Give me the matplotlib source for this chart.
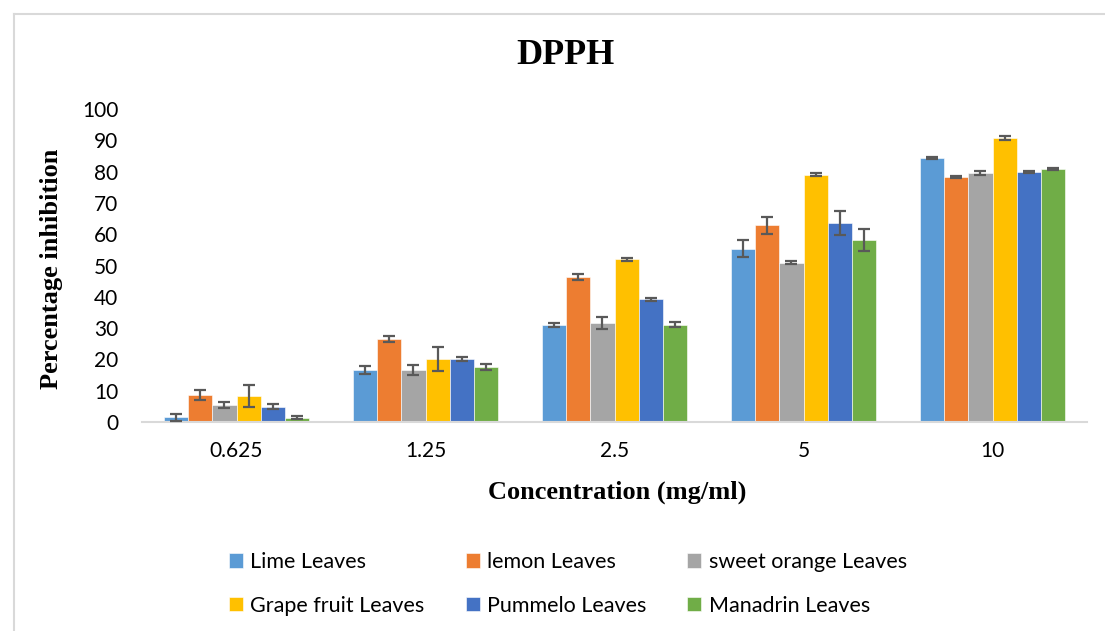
import numpy as np
import matplotlib
matplotlib.use("Agg")
import matplotlib.pyplot as plt
from matplotlib.lines import Line2D

concentrations = ["0.625", "1.25", "2.5", "5", "10"]
series_names = ["Lime Leaves", "lemon Leaves", "sweet orange Leaves",
                "Grape fruit Leaves", "Pummelo Leaves", "Manadrin Leaves"]
colors = ["#5B9BD5", "#ED7D31", "#A5A5A5", "#FFC000", "#4472C4", "#70AD47"]

lime = [1.5, 16.6, 31.0, 55.3, 84.4]
lemon = [8.6, 26.5, 46.3, 62.9, 78.2]
sweet_orange = [5.4, 16.6, 31.6, 50.9, 79.5]
grape_fruit = [8.3, 20.1, 52.0, 79.0, 90.7]
pummelo = [4.8, 20.1, 39.2, 63.5, 79.8]
mandarin = [1.3, 17.5, 31.0, 58.1, 80.7]

lime_err = [1.1, 1.4, 0.7, 2.7, 0.3]
lemon_err = [1.5, 1.1, 1.0, 2.7, 0.4]
sweet_orange_err = [1.0, 1.5, 1.9, 0.4, 0.6]
grape_fruit_err = [3.4, 3.8, 0.5, 0.5, 0.6]
pummelo_err = [0.8, 0.6, 0.4, 3.8, 0.4]
mandarin_err = [0.5, 1.0, 0.8, 3.6, 0.3]

values = [lime, lemon, sweet_orange, grape_fruit, pummelo, mandarin]
errors = [lime_err, lemon_err, sweet_orange_err, grape_fruit_err, pummelo_err, mandarin_err]

fig = plt.figure(figsize=(11.05, 6.31), dpi=100)
ax = fig.add_axes([142 / 1105, 1 - 422 / 631, 945 / 1105, 313 / 631])

x = np.arange(len(concentrations))
w = 0.767 / 6
handles = []
for j, (vals, errs) in enumerate(zip(values, errors)):
    pos = x + (j - 2.5) * w
    b = ax.bar(pos, vals, width=w, color=colors[j], edgecolor="white", linewidth=0.4,
               label=series_names[j], zorder=2)
    ax.errorbar(pos, vals, yerr=errs, fmt="none", ecolor="#595959", elinewidth=1.6,
                capsize=4.5, capthick=1.6, zorder=3)
    handles.append(b)

ax.set_xlim(-0.5, 4.5)
ax.set_ylim(0, 100)
ax.set_yticks(range(0, 101, 10))
ax.set_xticks(x)
ax.set_xticklabels(concentrations)
for s in ["top", "right", "left"]:
    ax.spines[s].set_visible(False)
ax.spines["bottom"].set_color("#d9d9d9")
ax.spines["bottom"].set_linewidth(1.5)
ax.tick_params(axis="both", length=0, labelsize=15, labelcolor="#000000")
ax.tick_params(axis="y", pad=17)
ax.tick_params(axis="x", pad=14)
for lab in ax.get_xticklabels() + ax.get_yticklabels():
    lab.set_family("Lato")

ax.set_ylabel("Percentage inhibition", family="Liberation Serif", fontweight="bold", fontsize=19)
ax.yaxis.set_label_coords(-0.0836, 0.49)
ax.set_xlabel("Concentration (mg/ml)", family="Liberation Serif", fontweight="bold", fontsize=19)
ax.xaxis.label.set_verticalalignment("center")
ax.xaxis.set_label_coords(0.503, -0.224)

fig.text(565 / 1105, 1 - 56 / 631, "DPPH", family="Liberation Serif", fontweight="bold",
         fontsize=26, ha="center", va="center")

# legend: rows read Lime, lemon, sweet orange / Grape, Pummelo, Manadrin
order = [0, 3, 1, 4, 2, 5]
leg = fig.legend([handles[i] for i in order], [series_names[i] for i in order],
                 ncol=3, loc="center", bbox_to_anchor=(568 / 1105, 1 - 584 / 631),
                 frameon=False, prop={"family": "Lato", "size": 15.5},
                 handlelength=0.65, handleheight=0.65, handletextpad=0.35,
                 columnspacing=1.9, labelspacing=1.1)

# chart area border
fig.add_artist(Line2D([14 / 1105, 14 / 1105], [0, 1 - 14 / 631], color="#d9d9d9", lw=1.5))
fig.add_artist(Line2D([14 / 1105, 1], [1 - 14 / 631, 1 - 14 / 631], color="#d9d9d9", lw=1.5))

fig.savefig("out.png", dpi=100)
